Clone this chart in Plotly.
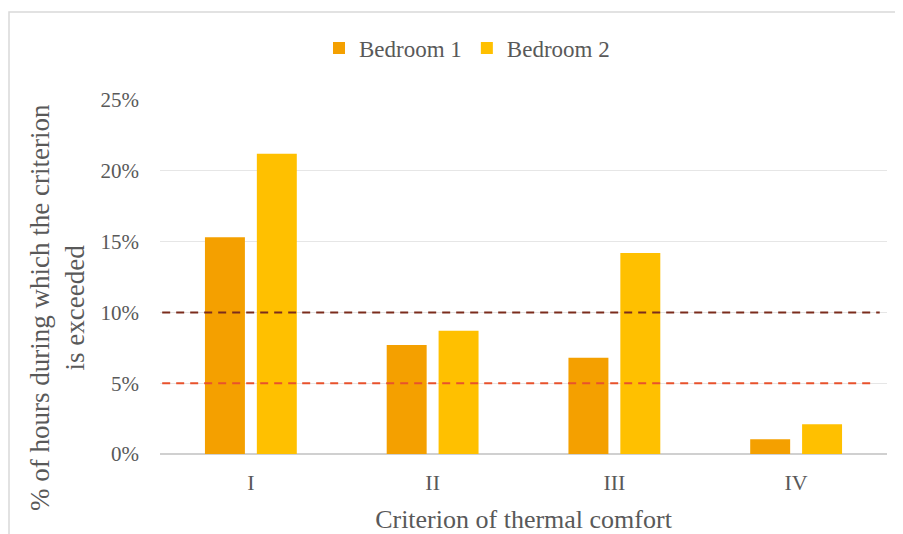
import plotly.graph_objects as go

categories = ["I", "II", "III", "IV"]
bedroom1 = [15.3, 7.7, 6.8, 1.05]
bedroom2 = [21.2, 8.7, 14.2, 2.1]
threshold_high = 10
threshold_low = 5
y_ticks = [0, 5, 10, 15, 20, 25]
y_tick_labels = [f"{v}%" for v in y_ticks]

FONT = "Liberation Serif"
GREY = "#595959"

W, H = 895, 526
L, R, T, B = 152, 16, 92, 80
PW, PH = W - L - R, H - T - B

fig = go.Figure()
fig.add_trace(go.Bar(name="Bedroom 1", x=categories, y=bedroom1,
                     marker=dict(color="#F4A000", line=dict(width=0))))
fig.add_trace(go.Bar(name="Bedroom 2", x=categories, y=bedroom2,
                     marker=dict(color="#FFC000", line=dict(width=0))))

fig.add_shape(type="line", xref="paper", yref="y", x0=0.003, x1=0.99,
              y0=threshold_high, y1=threshold_high,
              line=dict(color="#7B2C1C", width=2, dash="8px,6px"))
fig.add_shape(type="line", xref="paper", yref="y", x0=0.003, x1=0.983,
              y0=threshold_low, y1=threshold_low,
              line=dict(color="#E8522C", width=2, dash="8px,6px"))

# chart border (left and top edges visible)
fig.add_shape(type="rect", xref="paper", yref="paper",
              x0=(1 - L) / PW, x1=1 + 40 / PW, y0=-(B + 40) / PH, y1=1 + (T - 4) / PH,
              line=dict(color="#D9D9D9", width=1.5), layer="below")

# y-axis title (as annotation, centred like the original)
fig.add_annotation(text="% of hours during which the criterion<br>is exceeded",
                   xref="paper", yref="paper", x=(49 - L) / PW, y=(446 - 300) / PH,
                   xanchor="center", yanchor="middle", textangle=-90, showarrow=False,
                   font=dict(family=FONT, size=27, color=GREY))

fig.update_layout(
    width=W, height=H,
    margin=dict(l=L, r=R, t=T, b=B, autoexpand=False),
    paper_bgcolor="white", plot_bgcolor="white",
    barmode="group", bargap=0.429, bargroupgap=0.23,
    font=dict(family=FONT, color=GREY, size=20),
    legend=dict(orientation="h", x=(459 - L) / PW, xanchor="center", y=1 + (T - 40) / PH,
                yanchor="middle", font=dict(family=FONT, size=23, color=GREY),
                itemwidth=30, traceorder="normal"),
    xaxis=dict(
        automargin=False,
        showgrid=False, showline=False, ticks="",
        ticklabelstandoff=13,
        tickfont=dict(family=FONT, size=22, color=GREY),
        title=dict(text="Criterion of thermal comfort",
                   font=dict(family=FONT, size=26, color=GREY), standoff=16),
    ),
    yaxis=dict(
        automargin=False,
        range=[0, 25], tickvals=y_ticks, ticktext=y_tick_labels,
        showgrid=True, gridcolor="#E6E6E6", gridwidth=1,
        zeroline=True, zerolinecolor="#D0D0D0", zerolinewidth=2,
        showline=False, ticks="", ticklen=0, ticklabelstandoff=20,
        tickfont=dict(family=FONT, size=21, color=GREY),
    ),
)

fig.write_html("out.html")
